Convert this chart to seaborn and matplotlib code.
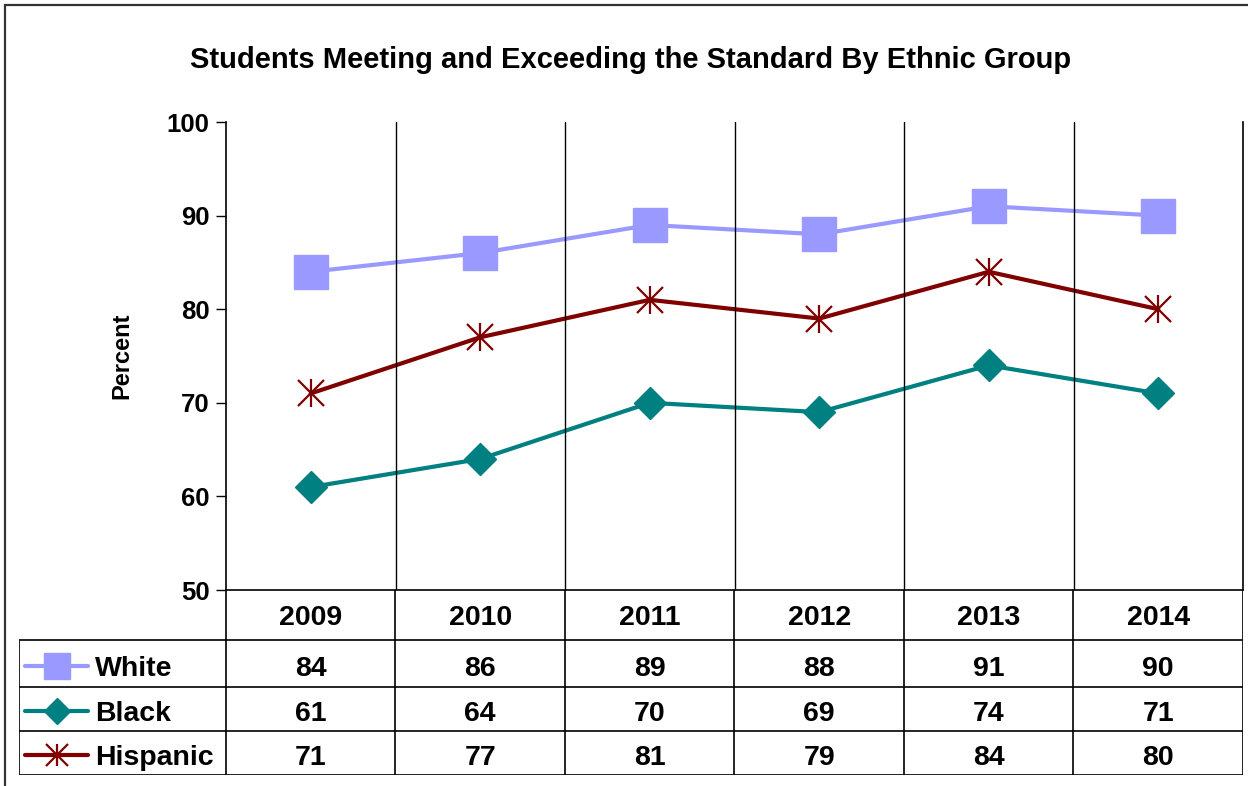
import matplotlib.pyplot as plt
import pandas as pd
import seaborn as sb
from matplotlib.patches import Rectangle

# dados
anos = ['2009', '2010', '2011', '2012', '2013', '2014']
grupos = ['White', 'Black', 'Hispanic']
white = [84, 86, 89, 88, 91, 90]
black = [61, 64, 70, 69, 74, 71]
hispanic = [71, 77, 81, 79, 84, 80]
yticks = [50, 60, 70, 80, 90, 100]

cores = {'White': '#9999FF', 'Black': '#008080', 'Hispanic': '#800000'}
marcadores = {'White': ('s', 24, 1), 'Black': ('D', 16, 1), 'Hispanic': ('x', 19, 1.6)}

df = pd.DataFrame({'ano': anos, 'White': white, 'Black': black, 'Hispanic': hispanic})
df['pos'] = range(len(anos))

sb.set_style('white')
plt.rcParams['font.family'] = ['Liberation Sans', 'DejaVu Sans']
plt.rcParams['font.weight'] = 'bold'
plt.rcParams['text.color'] = 'black'
plt.rcParams['axes.labelcolor'] = 'black'
plt.rcParams['ytick.color'] = 'black'

W, H = 1248, 786
fig = plt.figure(figsize=(W / 100, H / 100), dpi=100)

# moldura externa (so esquerda e topo aparecem)
fig.patches.append(Rectangle((5 / W, -0.1), 1.2, 1 - 5 / H + 0.1, transform=fig.transFigure,
                             fill=False, edgecolor='#333333', linewidth=1.6))

# eixo principal
x_esq, x_dir, y_top, y_base = 226, 1243, 122, 590
ax = fig.add_axes([x_esq / W, 1 - y_base / H, (x_dir - x_esq) / W, (y_base - y_top) / H])
for g in grupos:
    m, ms, mew = marcadores[g]
    sb.lineplot(data=df, x='pos', y=g, ax=ax, color=cores[g], linewidth=3,
                marker=m, markersize=ms, markeredgecolor=cores[g], markeredgewidth=mew)
    if g == 'Hispanic':
        sb.lineplot(data=df, x='pos', y=g, ax=ax, color=cores[g], linewidth=0,
                    marker='|', markersize=ms * 1.05, markeredgecolor=cores[g], markeredgewidth=mew)

ax.set_xlim(-0.5, len(anos) - 0.5)
ax.set_ylim(yticks[0], yticks[-1])
ax.set_yticks(yticks)
ax.set_yticklabels([str(v) for v in yticks], fontsize=18.5, fontweight='bold')
ax.set_xticks([])
for b in range(1, len(anos)):
    ax.axvline(b - 0.5, color='black', linewidth=1)
ax.tick_params(axis='y', direction='out', length=7, width=1, left=True, pad=5)
for s in ['left', 'bottom', 'right']:
    ax.spines[s].set_color('black')
    ax.spines[s].set_linewidth(1.2)
ax.spines['top'].set_visible(False)
ax.set_xlabel('')
ax.set_ylabel('Percent', fontsize=17, fontweight='bold', labelpad=24)

fig.text(631 / W, 1 - 60 / H, 'Students Meeting and Exceeding the Standard By Ethnic Group',
         ha='center', va='center', fontsize=21, fontweight='bold')

# tabela de dados
t_esq, t_base = 19, 775
px_un = (x_dir - x_esq) / len(anos)
x0 = -0.5 - (x_esq - t_esq) / px_un
tb = fig.add_axes([t_esq / W, 1 - t_base / H, (x_dir - t_esq) / W, (t_base - y_base) / H])
tb.set_xlim(x0, len(anos) - 0.5)
tb.set_ylim(t_base - y_base, 0)
tb.axis('off')

linhas = [0, 50, 97, 141, 185]
tb.hlines(linhas[1:], x0, len(anos) - 0.5, color='black', linewidth=1.2)
tb.vlines(x0, linhas[1], linhas[-1], color='black', linewidth=1.2)
for b in range(len(anos) + 1):
    tb.vlines(b - 0.5, 0, linhas[-1], color='black', linewidth=1.2)

for i, a in enumerate(anos):
    tb.text(i, 28, a, ha='center', va='center', fontsize=20.5, fontweight='bold')

valores = {'White': white, 'Black': black, 'Hispanic': hispanic}
for r, g in enumerate(grupos):
    yc = (linhas[r + 1] + linhas[r + 2]) / 2 + 5
    for i, v in enumerate(valores[g]):
        tb.text(i, yc, str(v), ha='center', va='center', fontsize=20.5, fontweight='bold')
    # amostra da legenda
    xa = x0 + (25 - t_esq) / px_un
    xb = x0 + (88 - t_esq) / px_un
    m, ms, mew = marcadores[g]
    ym = yc - 3
    tb.plot([xa, xb], [ym, ym], color=cores[g], linewidth=3, clip_on=False)
    tb.plot([(xa + xb) / 2], [ym], marker=m, markersize=ms * 0.8, color=cores[g],
            markeredgecolor=cores[g], markeredgewidth=mew, clip_on=False)
    if g == 'Hispanic':
        tb.plot([(xa + xb) / 2], [ym], marker='|', markersize=ms * 0.84, color=cores[g],
                markeredgewidth=mew, clip_on=False)
    tb.text(x0 + (95 - t_esq) / px_un, yc, g, ha='left', va='center', fontsize=20.5, fontweight='bold')

fig.savefig('out.png', dpi=100)
